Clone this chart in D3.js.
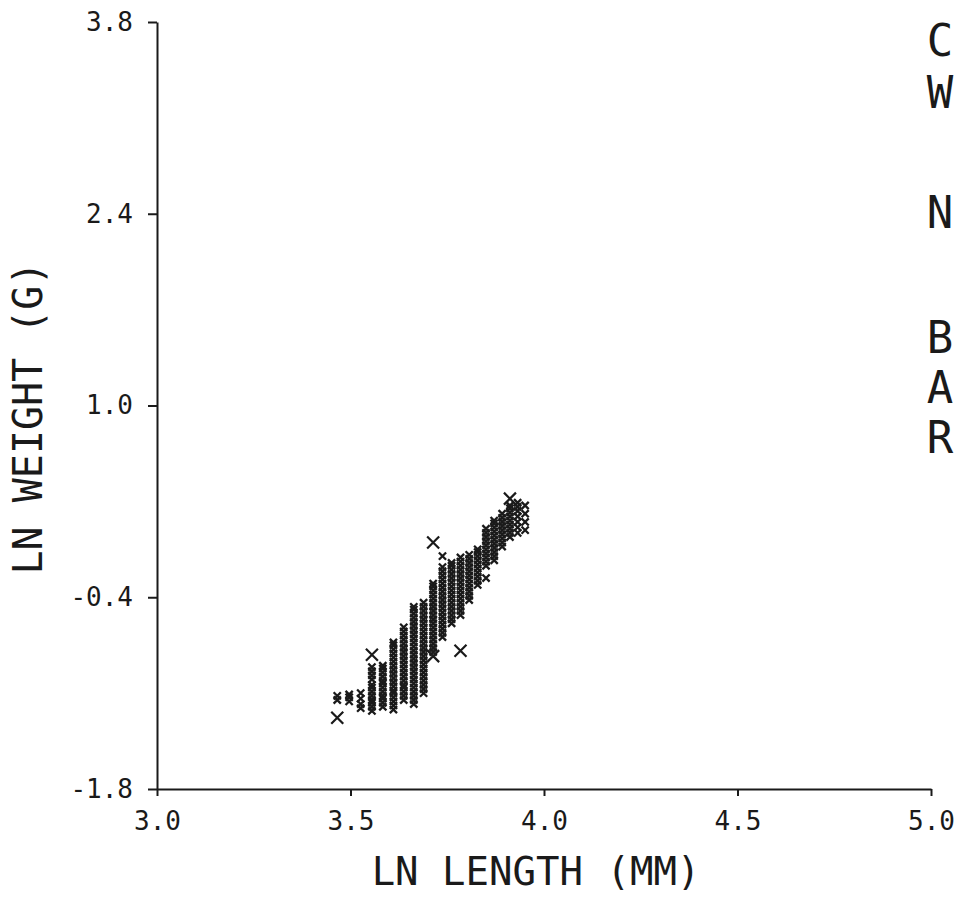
<!DOCTYPE html>
<html>
<head>
<meta charset="utf-8">
<script src="https://cdn.jsdelivr.net/npm/d3@7"></script>
<style>
  body { margin: 0; background: #fff; }
  svg text { font-family: "DejaVu Sans Mono", monospace; fill: #1a1a1a; }
</style>
</head>
<body>
<div id="chart"></div>
<script>
(function() {
    // lengths (mm) of each measured column, plotted as ln(length)
    const colLength = [32, 33, 34, 35, 36, 37, 38, 39, 40, 41, 42, 43, 44, 45, 46, 47, 48, 49, 50, 51, 52];
    // ln weight (g)
    const colWeights = [
        [-1.12, -1.15],
        [-1.11, -1.16, -1.13],
        [-1.10, -1.14, -1.18, -1.21],
        [-1.23, -1.20, -1.17, -1.15, -1.12, -1.09, -1.06, -1.04, -1.00, -0.97, -0.94, -0.91],
        [-1.20, -1.17, -1.14, -1.12, -1.09, -1.06, -1.03, -1.01, -0.98, -0.95, -0.92, -0.90],
        [-1.22, -1.19, -1.16, -1.13, -1.10, -1.08, -1.05, -1.02, -0.99, -0.96, -0.93, -0.90, -0.87, -0.84, -0.81, -0.78, -0.75, -0.73],
        [-1.15, -1.12, -1.09, -1.06, -1.04, -1.01, -0.98, -0.95, -0.92, -0.89, -0.86, -0.83, -0.80, -0.77, -0.74, -0.71, -0.68, -0.65, -0.62],
        [-1.18, -1.15, -1.12, -1.09, -1.06, -1.03, -1.00, -0.97, -0.94, -0.91, -0.88, -0.85, -0.82, -0.79, -0.76, -0.73, -0.70, -0.67, -0.64, -0.61, -0.58, -0.55, -0.52, -0.49, -0.47],
        [-1.10, -1.07, -1.04, -1.01, -0.98, -0.95, -0.92, -0.89, -0.86, -0.83, -0.80, -0.77, -0.74, -0.71, -0.68, -0.65, -0.62, -0.59, -0.56, -0.53, -0.50, -0.47, -0.44],
        [-0.80, -0.77, -0.74, -0.71, -0.68, -0.65, -0.62, -0.59, -0.56, -0.53, -0.50, -0.47, -0.44, -0.41, -0.38, -0.35, -0.32, -0.30],
        [-0.69, -0.66, -0.63, -0.60, -0.57, -0.54, -0.51, -0.48, -0.45, -0.42, -0.39, -0.36, -0.33, -0.30, -0.27, -0.24, -0.21, -0.18, -0.10],
        [-0.59, -0.56, -0.53, -0.50, -0.47, -0.44, -0.41, -0.38, -0.35, -0.32, -0.29, -0.26, -0.23, -0.20, -0.17, -0.15],
        [-0.53, -0.50, -0.47, -0.44, -0.41, -0.38, -0.35, -0.32, -0.29, -0.26, -0.23, -0.20, -0.17, -0.14, -0.11],
        [-0.42, -0.39, -0.36, -0.33, -0.30, -0.27, -0.24, -0.21, -0.18, -0.15, -0.12, -0.09],
        [-0.31, -0.28, -0.25, -0.22, -0.19, -0.16, -0.13, -0.10, -0.07, -0.05],
        [-0.26, -0.17, -0.14, -0.11, -0.08, -0.05, -0.02, 0.01, 0.04, 0.07, 0.10],
        [-0.13, -0.10, -0.07, -0.04, -0.01, 0.02, 0.05, 0.08, 0.11, 0.14, 0.16],
        [-0.03, 0.00, 0.03, 0.06, 0.09, 0.12, 0.15, 0.18, 0.21],
        [0.04, 0.07, 0.10, 0.13, 0.16, 0.19, 0.22, 0.25, 0.27],
        [0.07, 0.11, 0.15, 0.19, 0.23, 0.26, 0.29],
        [0.09, 0.15, 0.21, 0.27]
    ];
    // isolated single crosses
    const loneLength = [32, 35, 41, 41, 44, 50];
    const loneWeight = [-1.28, -0.82, 0.00, -0.83, -0.79, 0.32];

    const xTicks = [3.0, 3.5, 4.0, 4.5, 5.0];
    const yTicks = [-1.8, -0.4, 1.0, 2.4, 3.8];
    const sideLetters = ["C", "W", "N", "B", "A", "R"];
    const sideBaselines = [56, 108, 228, 353, 403, 453];

    const width = 958, height = 897;
    const margin = { left: 157, right: 27, top: 22, bottom: 108 };

    const svg = d3.select("#chart").append("svg")
        .attr("width", width)
        .attr("height", height);

    const x = d3.scaleLinear().domain([3.0, 5.0]).range([margin.left, width - margin.right]);
    const y = d3.scaleLinear().domain([-1.8, 3.8]).range([height - margin.bottom, margin.top]);

    const ink = "#1a1a1a";

    const xAxis = svg.append("g")
        .attr("transform", `translate(0,${height - margin.bottom})`)
        .call(d3.axisBottom(x).tickValues(xTicks).tickSize(7).tickSizeOuter(0)
            .tickPadding(16).tickFormat(d => d.toFixed(1)));

    const yAxis = svg.append("g")
        .attr("transform", `translate(${margin.left},0)`)
        .call(d3.axisLeft(y).tickValues(yTicks).tickSize(9).tickSizeOuter(0)
            .tickPadding(15).tickFormat(d => d.toFixed(1)));

    [xAxis, yAxis].forEach(g => {
        g.select(".domain").attr("stroke", ink).attr("stroke-width", 2);
        g.selectAll(".tick line").attr("stroke", ink).attr("stroke-width", 2);
        g.selectAll(".tick text").style("font-size", "26px").attr("fill", ink);
    });

    // flatten columns into points
    const points = [];
    colLength.forEach((L, i) => {
        colWeights[i].forEach(w => points.push({ lx: Math.log(L), lw: w }));
    });
    const lone = loneLength.map((L, i) => ({ lx: Math.log(L), lw: loneWeight[i] }));

    const cross = s => `M${-s},${-s}L${s},${s}M${-s},${s}L${s},${-s}`;

    svg.append("g").selectAll("path")
        .data(points)
        .join("path")
        .attr("transform", d => `translate(${x(d.lx)},${y(d.lw)})`)
        .attr("d", cross(3.6))
        .attr("stroke", ink)
        .attr("stroke-width", 2.3)
        .attr("fill", "none");

    svg.append("g").selectAll("path")
        .data(lone)
        .join("path")
        .attr("transform", d => `translate(${x(d.lx)},${y(d.lw)})`)
        .attr("d", cross(6))
        .attr("stroke", ink)
        .attr("stroke-width", 2.2)
        .attr("fill", "none");

    // axis titles
    svg.append("text")
        .attr("x", 536)
        .attr("y", 885)
        .attr("text-anchor", "middle")
        .style("font-size", "39px")
        .text("LN LENGTH (MM)");

    svg.append("text")
        .attr("transform", "translate(42,418) rotate(-90)")
        .attr("text-anchor", "middle")
        .style("font-size", "40px")
        .text("LN WEIGHT (G)");

    // vertical caption on the right
    svg.append("g").selectAll("text")
        .data(sideLetters)
        .join("text")
        .attr("x", 940)
        .attr("y", (d, i) => sideBaselines[i])
        .attr("text-anchor", "middle")
        .style("font-size", "44px")
        .text(d => d);
})();
</script>
</body>
</html>
